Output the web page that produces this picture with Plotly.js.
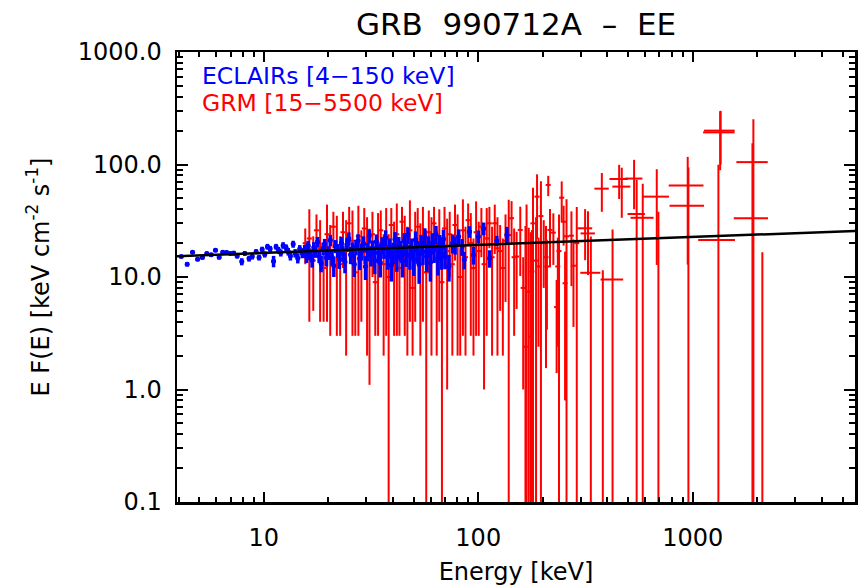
<!DOCTYPE html>
<html>
<head>
<meta charset="utf-8">
<script src="https://cdn.plot.ly/plotly-3.0.1.min.js"></script>
<style>html,body{margin:0;padding:0;background:#fff;}#chart{width:865px;height:586px;}</style>
</head>
<body>
<div id="chart"></div>
<script>
// ---------------- DATA ----------------
// ECLAIRs (blue) low-energy points
var eclLowE   = [4.12,4.39,4.65,4.91,5.17,5.42,5.68,5.95,6.19,6.43,6.71,6.99,7.24,7.51,7.89,8.15,8.53,8.83,9.2,9.5,9.82,10.1,10.4,10.7,11.1,11.4,11.7,12.0,12.3,12.7,13.0,13.3,13.7,14.0,14.4,14.7,15.1];
var eclLowF   = [15.2,13.0,16.6,14.4,14.9,16.2,15.8,17.3,15.0,16.6,16.5,16.2,16.3,15.4,13.7,16.2,14.6,15.2,16.8,14.9,17.6,15.9,18.6,17.8,13.8,18.6,17.3,16.4,19.1,18.2,16.8,15.4,19.6,16.3,14.7,17.7,16.3];
var eclLowErr = [0.5,0.6,0.6,0.6,0.6,0.6,0.6,0.7,0.7,0.7,0.7,0.7,0.8,0.8,1.0,0.8,0.9,0.9,0.9,0.9,1.0,1.0,1.1,1.1,1.6,1.1,1.2,1.2,1.3,1.3,1.3,1.4,1.4,1.4,1.5,1.5,1.6];

// ECLAIRs dense points 15-70 keV
var eclMidE = [15.5,15.8,16.1,16.4,16.8,17.1,17.4,17.8,18.1,18.5,
  18.9,19.2,19.6,20.0,20.4,20.8,21.2,21.6,22.1,22.5,
  23.0,23.4,23.9,24.4,24.9,25.4,25.9,26.4,26.9,27.5,
  28.0,28.6,29.2,29.8,30.4,31.0,31.6,32.2,32.9,33.5,
  34.2,34.9,35.6,36.3,37.0,37.8,38.5,39.3,40.1,40.9,
  41.7,42.6,43.4,44.3,45.2,46.1,47.0,48.0,49.0,50.0,
  51.0,52.0,53.0,54.1,55.2,56.3,57.4,58.6,59.8,61.0,
  62.2,63.5,64.8,66.1,67.4,68.8];
var eclMidF = [17.5,15.2,19.0,16.0,14.1,18.3,16.8,20.5,15.4,13.2,
  17.9,19.6,14.8,16.5,21.2,15.0,12.6,18.8,17.2,14.4,
  20.1,16.2,13.6,19.4,22.0,15.8,17.6,13.0,18.5,21.0,
  14.6,16.9,19.8,12.4,17.0,23.2,15.6,18.0,14.0,20.6,
  16.4,13.4,19.2,17.8,22.4,15.1,18.6,12.8,16.6,21.6,
  14.9,19.0,17.3,13.8,20.8,16.0,23.6,15.5,18.2,14.3,
  21.4,17.0,12.9,19.6,16.8,22.8,15.3,18.9,13.5,20.2,
  17.5,24.0,14.7,19.3,16.2,21.8];
var eclMidErr = [1.8,1.9,2.0,1.9,2.0,2.1,2.0,2.2,2.1,2.2,
  2.3,2.2,2.4,2.3,2.5,2.4,2.6,2.5,2.4,2.6,
  2.7,2.6,2.8,2.7,2.9,2.8,2.7,3.0,2.9,3.0,
  3.1,2.9,3.2,3.0,3.1,3.3,3.2,3.1,3.4,3.3,
  3.2,3.5,3.4,3.3,3.6,3.5,3.4,3.7,3.6,3.5,
  3.8,3.7,3.6,3.9,3.8,3.7,4.0,3.9,3.8,4.1,
  4.0,3.9,4.2,4.1,4.0,4.3,4.2,4.1,4.4,4.3,
  4.2,4.5,4.4,4.3,4.6,4.5];

// ECLAIRs high-energy points 70-150 keV
var eclHighE   = [70,73,76,78,81,84,86,91,95,100,106,113,122,136];
var eclHighF   = [15.2,12.4,20.0,19.2,22.9,18.6,14.2,25.3,15.7,22.9,27.0,14.7,21.0,23.6];
var eclHighErr = [3.5,3.3,3.8,3.4,3.6,3.2,2.5,3.0,2.8,3.0,3.5,2.6,2.2,4.3];

// GRM (red) points 15-300 keV
var grmE = [15.6,16.3,17.0,17.6,18.3,19.0,19.7,20.4,21.1,21.9,
  22.7,23.4,24.2,25.0,25.9,26.7,27.6,28.5,29.4,30.3,
  31.1,32.1,33.1,34.1,35.1,36.2,37.2,38.2,39.3,40.5,
  41.7,42.9,44.1,45.4,46.7,48.0,49.4,50.8,52.2,53.7,
  55.2,57.2,58.8,60.5,62.2,64.0,65.8,67.7,69.6,71.6,
  73.6,75.7,77.9,80.1,82.4,84.8,87.2,89.7,92.3,95.0,
  97.7,100.5,103.4,106.4,109.5,112.7,116.0,119.4,122.9,126.5,
  130.2,134.0,138.7,
  143,147,151,157,162,166,168,172,176,178,
  180,186,188,191,196,202,207,209,212,216,
  224,232,235,238,245,250,254,258,272,278,288];
var grmF = [20,22,14,26,18,12,24,16,28,19,
  13,25,17,30,21,11,23,15,27,18,
  14,24,9,20,26,13,22,10,29,17,
  24,12,31,19,15,26,8,21,28,16,
  23,11,25,18,30,14,22,9,27,17,
  24,13,29,19,10,26,15,32,20,12,
  25,17,28,13,22,30,15,30,18,17,
  12,21,23.6,
  33.3,15,15.2,26.2,8,2.4,20,7.4,2.95,11.2,
  30,14,51.8,12.4,34.8,20,15,12.4,65.8,26.2,
  24.8,5.4,12.4,17,50.7,31,8.8,23,23.3,12.6,20];
var grmErr = [7,18,9,10,14,8,20,13,10,16,
  10,13,15,12,18,8,20,11,14,16,
  12.9,14,6,17,13,11,19,14,12,14,
  21,9,11,16,13,22,6,17,13,14,
  19,15,14,16,12,12,18,13,15,16,
  14,11,15,17,8,23,13,13,17,10,
  22,14,13,12,19,12,13,14,16,12,
  10,15,25,
  14,12,10,16,7,26,24,20,22,15,
  32,20,30,10,36,12,13.45,9,13.5,14,
  12,4,10,19,20,12,8,26,15,9,22];

// GRM (red) high-energy binned points
var grmHiE    = [315,325,335,377,381,423,454,467,533,548,585,680,692,948,955,1318,1343,1350,1900,1919,2113];
var grmHiF    = [27.1,24.4,10.9,61,0.05,9.5,74.3,63.6,75,36.3,33.6,51.8,0.05,64.9,43,21.3,193,200,33.2,105,0.05];
var grmHiErr  = [13,14,12,23,11.45,17,25,30,35,37,34,39,38,52,51,78,104,100,121,147,16.55];
var grmHiXErr = [25,25,36,29,0,51,45,45,50,51,72,95,0,175,175,257,225,220,345,320,0];

// Power-law model line end points
var modelE = [3.9, 5800];
var modelF = [15.3, 25.7];

// ---------------- TRACES ----------------
var RED = '#ff0000', BLUE = '#0000ff';
function redTrace(x, y, ey, ex) {
  var t = {x: x, y: y, type: 'scatter', mode: 'markers', hoverinfo: 'skip',
    marker: {size: 2, color: RED},
    error_y: {type: 'data', array: ey, visible: true, color: RED, thickness: 2, width: 0}};
  t.error_x = ex ? {type: 'data', array: ex, visible: true, color: RED, thickness: 2, width: 0}
                 : {type: 'percent', value: 2.7, visible: true, color: RED, thickness: 2, width: 0};
  return t;
}
function blueTrace(x, y, ey) {
  return {x: x, y: y, type: 'scatter', mode: 'markers', hoverinfo: 'skip',
    marker: {size: 5, color: BLUE},
    error_y: {type: 'data', array: ey, visible: true, color: BLUE, thickness: 3.5, width: 0},
    error_x: {type: 'percent', value: 2.2, visible: true, color: BLUE, thickness: 3, width: 0}};
}
var traces = [
  redTrace(grmE, grmF, grmErr),
  redTrace(grmHiE, grmHiF, grmHiErr, grmHiXErr),
  blueTrace(eclLowE, eclLowF, eclLowErr),
  blueTrace(eclMidE, eclMidF, eclMidErr),
  blueTrace(eclHighE, eclHighF, eclHighErr),
  {x: modelE, y: modelF, type: 'scatter', mode: 'lines', hoverinfo: 'skip',
   line: {color: 'black', width: 2.5}}
];

var FONT = 'DejaVu Sans, sans-serif';
var axisCommon = {
  type: 'log', showgrid: false, zeroline: false,
  showline: true, linecolor: 'black', linewidth: 2.5, mirror: 'allticks',
  ticks: 'inside', tickcolor: 'black', tickwidth: 2,
  tickmode: 'linear', tick0: 0, dtick: 1,
  tickfont: {family: FONT, size: 24, color: 'black'}
};
var layout = {
  width: 865, height: 586,
  margin: {l: 177, r: 10, t: 52, b: 84},
  paper_bgcolor: 'white', plot_bgcolor: 'white',
  showlegend: false,
  font: {family: FONT, color: 'black'},
  title: {text: 'GRB\u00a0\u00a0990712A\u00a0\u00a0\u2013\u00a0\u00a0EE', font: {family: FONT, size: 31, color: 'black'},
          x: 0.5, xref: 'paper', xanchor: 'center', y: 0.958, yref: 'container', yanchor: 'middle'},
  xaxis: Object.assign({}, axisCommon, {
    range: [0.595, 3.757], tickformat: 'd', ticklen: 10,
    ticklabelstandoff: 13,
    minor: {ticks: 'inside', ticklen: 5, tickwidth: 2, tickcolor: 'black', dtick: 'D1', showgrid: false},
    title: {text: 'Energy [keV]', font: {family: FONT, size: 24, color: 'black'}, standoff: 12}
  }),
  yaxis: Object.assign({}, axisCommon, {
    range: [-1, 3], tickformat: '.1f', ticklen: 11,
    ticklabelstandoff: 8,
    minor: {ticks: 'inside', ticklen: 6, tickwidth: 2, tickcolor: 'black', dtick: 'D1', showgrid: false},
    title: {text: 'E F(E) [keV cm<sup>-2</sup> s<sup>-1</sup>]', font: {family: FONT, size: 24, color: 'black'}, standoff: 22}
  }),
  annotations: [
    {text: 'ECLAIRs [4\u2212150 keV]', xref: 'paper', yref: 'paper', x: 0.034, y: 0.947,
     xanchor: 'left', yanchor: 'middle', showarrow: false, font: {family: FONT, size: 23.5, color: BLUE}},
    {text: 'GRM [15\u22125500 keV]', xref: 'paper', yref: 'paper', x: 0.034, y: 0.887,
     xanchor: 'left', yanchor: 'middle', showarrow: false, font: {family: FONT, size: 23.5, color: RED}}
  ]
};
Plotly.newPlot('chart', traces, layout, {staticPlot: true, displayModeBar: false});
</script>
</body>
</html>
